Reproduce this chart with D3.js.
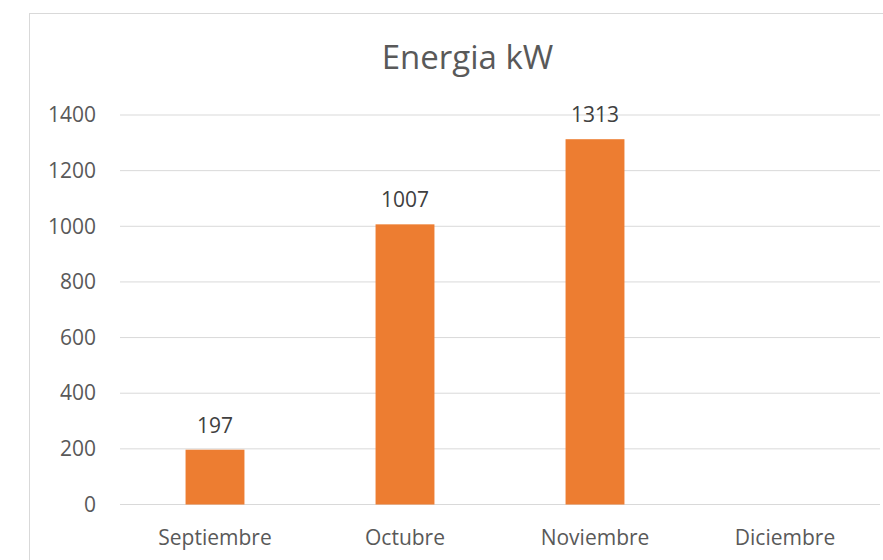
<!DOCTYPE html>
<html>
<head>
<meta charset="utf-8">
<script src="https://cdn.jsdelivr.net/npm/d3@7.9.0/dist/d3.min.js"></script>
<style>
  body { margin: 0; background: #fff; }
  svg { display: block; font-family: "Open Sans", "Noto Sans", sans-serif; }
</style>
</head>
<body>
<svg id="chart" width="883" height="560"></svg>
<script>
const months = ['Septiembre', 'Octubre', 'Noviembre', 'Diciembre'];
const energy = [197, 1007, 1313, null];
const yTicks = [0, 200, 400, 600, 800, 1000, 1200, 1400];

const svg = d3.select('#chart');
const plot = { left: 120, right: 880, top: 115, bottom: 504.5 };

// chart frame
svg.append('rect')
  .attr('x', 29.5).attr('y', 13.5)
  .attr('width', 900).attr('height', 600)
  .attr('fill', 'none')
  .attr('stroke', '#d9d9d9');

const x = d3.scaleBand()
  .domain(months)
  .range([plot.left, plot.right])
  .paddingInner(0.69)
  .paddingOuter(0.345);

const y = d3.scaleLinear()
  .domain([0, 1400])
  .range([plot.bottom, plot.top]);

// gridlines
svg.append('g')
  .selectAll('line')
  .data(yTicks)
  .join('line')
    .attr('x1', plot.left).attr('x2', plot.right)
    .attr('y1', d => y(d)).attr('y2', d => y(d))
    .attr('stroke', '#d9d9d9')
    .attr('stroke-width', 1);

// y axis labels
const yAxis = d3.axisLeft(y)
  .tickValues(yTicks)
  .tickFormat(d3.format('d'))
  .tickSize(0)
  .tickPadding(0);
svg.append('g')
  .attr('transform', `translate(96,0)`)
  .call(yAxis)
  .call(g => g.select('.domain').remove())
  .call(g => g.selectAll('text')
    .attr('fill', '#595959')
    .attr('font-size', 21)
    .attr('font-family', '"Open Sans", sans-serif'));

const barData = months.map((m, i) => ({ m, v: energy[i] })).filter(d => d.v != null);

// bars
svg.append('g')
  .selectAll('rect')
  .data(barData)
  .join('rect')
    .attr('x', d => x(d.m))
    .attr('y', d => y(d.v))
    .attr('width', x.bandwidth())
    .attr('height', d => y(0) - y(d.v))
    .attr('fill', '#ed7d31');

// value labels
svg.append('g')
  .selectAll('text')
  .data(barData)
  .join('text')
    .attr('x', d => x(d.m) + x.bandwidth() / 2)
    .attr('y', d => y(d.v) - 17)
    .attr('text-anchor', 'middle')
    .attr('fill', '#404040')
    .attr('font-size', 21)
    .text(d => d.v);

// x axis labels
const xAxis = d3.axisBottom(x).tickSize(0).tickPadding(0);
svg.append('g')
  .attr('transform', `translate(0,${plot.bottom + 40})`)
  .call(xAxis)
  .call(g => g.select('.domain').remove())
  .call(g => g.selectAll('text')
    .attr('dy', 0)
    .attr('fill', '#595959')
    .attr('font-size', 21)
    .attr('font-family', '"Open Sans", sans-serif'));

// title
svg.append('text')
  .attr('x', 467.5)
  .attr('y', 69)
  .attr('text-anchor', 'middle')
  .attr('fill', '#595959')
  .attr('font-size', 33)
  .text('Energia kW');
</script>
</body>
</html>
